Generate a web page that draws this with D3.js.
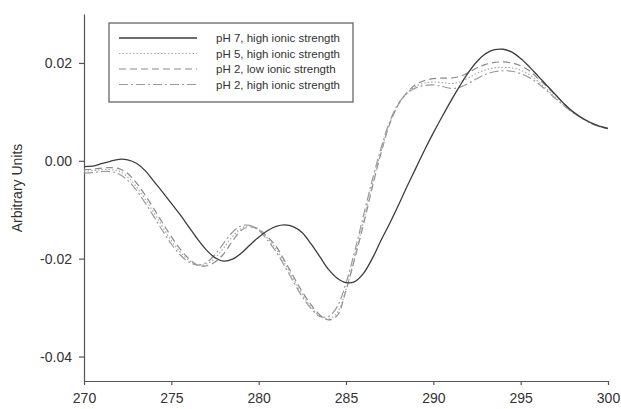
<!DOCTYPE html>
<html>
<head>
<meta charset="utf-8">
<script src="https://cdn.jsdelivr.net/npm/d3@7"></script>
<style>
  body { margin: 0; background: #fff; }
  text { font-family: "Liberation Sans", Arial, sans-serif; fill: #333; }
</style>
</head>
<body>
<svg id="chart" width="621" height="409"></svg>
<script>
// wavelength grid (nm), 0.5 step
const wavelengths = d3.range(270, 300.001, 0.5);

const ph7High = [
  -0.0012, -0.0011, -0.0006, -0.0001, 0.0003, 0.0002, -0.0005, -0.0020, -0.0042, -0.0064,
  -0.0087, -0.0110, -0.0135, -0.0160, -0.0182, -0.0198, -0.0205, -0.0201, -0.0189, -0.0172,
  -0.0156, -0.0143, -0.0134, -0.0131, -0.0135, -0.0147, -0.0170, -0.0196, -0.0222, -0.0240,
  -0.0249, -0.0247, -0.0230, -0.0200, -0.0163, -0.0128, -0.0091, -0.0052, -0.0015, 0.0022,
  0.0057, 0.0090, 0.0122, 0.0152, 0.0180, 0.0203, 0.0219, 0.0227, 0.0228, 0.0222,
  0.0209, 0.0192, 0.0173, 0.0154, 0.0135, 0.0116, 0.0100, 0.0088, 0.0078, 0.0071,
  0.0066
];

const ph5High = [
  -0.0021, -0.0020, -0.0018, -0.0018, -0.0021, -0.0033, -0.0053, -0.0078, -0.0106, -0.0135,
  -0.0163, -0.0186, -0.0203, -0.0213, -0.0211, -0.0199, -0.0178, -0.0155, -0.0138, -0.0133,
  -0.0140, -0.0158, -0.0180, -0.0210, -0.0242, -0.0273, -0.0299, -0.0317, -0.0323, -0.0310,
  -0.0263, -0.0196, -0.0124, -0.0050, 0.0018, 0.0076, 0.0115, 0.0139, 0.0152, 0.0159,
  0.0161, 0.0160, 0.0158, 0.0161, 0.0169, 0.0179, 0.0186, 0.0190, 0.0191, 0.0190,
  0.0185, 0.0176, 0.0162, 0.0146, 0.0129, 0.0113, 0.0099, 0.0087, 0.0077, 0.0070,
  0.0065
];

const ph2Low = [
  -0.0018, -0.0017, -0.0015, -0.0014, -0.0016, -0.0026, -0.0045, -0.0070, -0.0098, -0.0127,
  -0.0155, -0.0180, -0.0200, -0.0213, -0.0215, -0.0207, -0.0190, -0.0164, -0.0142, -0.0135,
  -0.0140, -0.0155, -0.0175, -0.0205, -0.0237, -0.0268, -0.0294, -0.0315, -0.0325, -0.0316,
  -0.0265, -0.0200, -0.0130, -0.0055, 0.0015, 0.0075, 0.0115, 0.0140, 0.0156, 0.0164,
  0.0168, 0.0169, 0.0169, 0.0172, 0.0180, 0.0190, 0.0197, 0.0201, 0.0202, 0.0200,
  0.0194, 0.0184, 0.0168, 0.0152, 0.0134, 0.0116, 0.0100, 0.0088, 0.0078, 0.0071,
  0.0066
];

const ph2High = [
  -0.0025, -0.0024, -0.0022, -0.0022, -0.0027, -0.0040, -0.0060, -0.0086, -0.0114, -0.0143,
  -0.0170, -0.0192, -0.0207, -0.0213, -0.0208, -0.0192, -0.0168, -0.0146, -0.0133, -0.0132,
  -0.0142, -0.0162, -0.0186, -0.0216, -0.0248, -0.0278, -0.0302, -0.0318, -0.0318, -0.0298,
  -0.0250, -0.0185, -0.0112, -0.0040, 0.0025, 0.0080, 0.0117, 0.0138, 0.0149, 0.0154,
  0.0155, 0.0152, 0.0148, 0.0150, 0.0158, 0.0168, 0.0177, 0.0182, 0.0184, 0.0183,
  0.0178, 0.0170, 0.0158, 0.0143, 0.0127, 0.0112, 0.0098, 0.0087, 0.0077, 0.0070,
  0.0065
];

const seriesNames = [
  "pH 7, high ionic strength",
  "pH 5, high ionic strength",
  "pH 2, low ionic strength",
  "pH 2, high ionic strength"
];
const xTicks = [270, 275, 280, 285, 290, 295, 300];
const yTicks = [-0.04, -0.02, 0.00, 0.02];

const styles = [
  { color: "#3c3c3c", width: 1.3, dash: null },
  { color: "#aaaaaa", width: 1.2, dash: "1.5,2" },
  { color: "#8a8a8a", width: 1.2, dash: "7,4" },
  { color: "#9a9a9a", width: 1.2, dash: "9,3,2,3" }
];

const svg = d3.select("#chart");

const x = d3.scaleLinear().domain([270, 300]).range([84, 608]);
const y = d3.scaleLinear().domain([-0.045, 0.03]).range([381, 14]);

// axes
const xAxis = svg.append("g")
  .attr("transform", `translate(0,${y.range()[0]})`)
  .call(d3.axisBottom(x).tickValues(xTicks).tickSize(4).tickSizeOuter(0).tickPadding(8));

const yAxis = svg.append("g")
  .attr("transform", `translate(${x.range()[0]},0)`)
  .call(d3.axisLeft(y).tickValues(yTicks).tickSize(5).tickSizeOuter(0).tickPadding(7)
    .tickFormat(d => d.toFixed(2)));

[xAxis, yAxis].forEach(g => {
  g.select(".domain").attr("stroke", "#555").attr("stroke-width", 1.2);
  g.selectAll(".tick line").attr("stroke", "#555").attr("stroke-width", 1.2);
  g.selectAll(".tick text")
    .attr("fill", "#333")
    .style("font-family", "'Liberation Sans', Arial, sans-serif")
    .style("font-size", "14px");
});

svg.append("text")
  .attr("transform", "translate(22,188) rotate(-90)")
  .attr("text-anchor", "middle")
  .style("font-size", "14px")
  .text("Arbitrary Units");

// curves
const allSeries = [ph7High, ph5High, ph2Low, ph2High];
const line = d3.line()
  .x((d, i) => x(wavelengths[i]))
  .y(d => y(d))
  .curve(d3.curveCatmullRom);

// draw lighter ones first, solid on top
[3, 2, 1, 0].forEach(k => {
  svg.append("path")
    .datum(allSeries[k])
    .attr("d", line)
    .attr("fill", "none")
    .attr("stroke", styles[k].color)
    .attr("stroke-width", styles[k].width)
    .attr("stroke-dasharray", styles[k].dash);
});

// legend
const legend = svg.append("g");
legend.append("rect")
  .attr("x", 109).attr("y", 23)
  .attr("width", 244).attr("height", 79)
  .attr("fill", "#fff")
  .attr("stroke", "#666")
  .attr("stroke-width", 1.3);

seriesNames.forEach((name, i) => {
  const ly = 38 + i * 15.5;
  legend.append("line")
    .attr("x1", 119).attr("x2", 197)
    .attr("y1", ly).attr("y2", ly)
    .attr("stroke", styles[i].color)
    .attr("stroke-width", styles[i].width)
    .attr("stroke-dasharray", styles[i].dash);
  legend.append("text")
    .attr("x", 216).attr("y", ly + 4)
    .style("font-size", "11.5px")
    .text(name);
});
</script>
</body>
</html>
